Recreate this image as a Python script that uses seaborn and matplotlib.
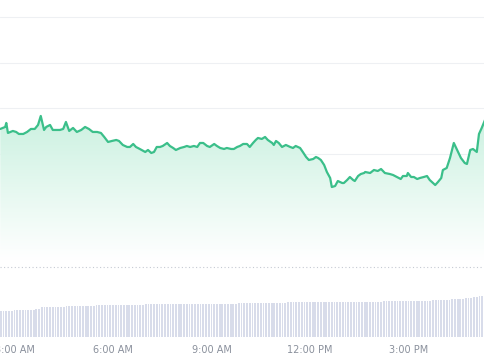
import matplotlib
matplotlib.use("Agg")
import matplotlib.pyplot as plt
from matplotlib.colors import LinearSegmentedColormap
import numpy as np
import pandas as pd
import seaborn as sns

# ---------------- data ----------------
# price trace: minutes since midnight and price index (unitless, axis hidden)
price_minutes = [154, 163, 165, 168, 177, 183, 188, 196, 203, 210, 217, 223, 228, 234, 238,
                 245, 250, 263, 269, 274, 280, 287, 294, 302, 309, 316, 323, 331, 338, 344,
                 351, 358, 366, 371, 378, 386, 391, 397, 402, 409, 419, 424, 430, 435, 440,
                 446, 451, 459, 464, 470, 475, 483, 490, 495, 501, 508, 514, 519, 525, 532,
                 537, 545, 550, 556, 563, 568, 576, 581, 587, 592, 598, 605, 610, 616, 621,
                 625, 632, 638, 643, 651, 654, 658, 663, 669, 676, 684, 689, 694, 702, 707,
                 713, 718, 726, 731, 735, 740, 746, 751, 757, 760, 766, 771, 779, 782, 788,
                 793, 799, 802, 808, 813, 819, 821, 830, 837, 844, 850, 857, 866, 872, 879,
                 886, 890, 897, 899, 905, 910, 916, 921, 928, 934, 939, 945, 949, 954, 960,
                 963, 970, 976, 983, 989, 996, 1003, 1007, 1013, 1018, 1025, 1029, 1034, 1040]
price_values = [102.75, 102.97, 103.41, 102.31, 102.53, 102.42, 102.20, 102.20, 102.42, 102.75,
                102.75, 103.19, 104.18, 102.64, 102.97, 103.19, 102.64, 102.64, 102.75, 103.52,
                102.53, 102.86, 102.42, 102.64, 102.97, 102.75, 102.42, 102.42, 102.31, 101.87,
                101.32, 101.43, 101.54, 101.43, 100.99, 100.77, 100.77, 101.10, 100.77, 100.55,
                100.22, 100.44, 100.11, 100.22, 100.77, 100.77, 100.88, 101.21, 100.88, 100.66,
                100.44, 100.66, 100.77, 100.88, 100.77, 100.88, 100.77, 101.21, 101.21, 100.88,
                100.77, 101.10, 100.88, 100.66, 100.55, 100.66, 100.55, 100.55, 100.77, 100.88,
                101.10, 101.10, 100.77, 101.21, 101.54, 101.76, 101.65, 101.87, 101.54, 101.21,
                100.99, 101.43, 101.21, 100.77, 100.99, 100.77, 100.66, 100.88, 100.66, 100.22,
                99.67, 99.34, 99.45, 99.67, 99.56, 99.34, 98.79, 98.02, 97.36, 96.37,
                96.48, 97.03, 96.81, 96.81, 97.14, 97.47, 97.14, 97.03, 97.58, 97.80,
                97.91, 98.02, 97.91, 98.24, 98.13, 98.35, 97.91, 97.80, 97.69, 97.47,
                97.25, 97.58, 97.58, 97.91, 97.47, 97.47, 97.25, 97.36, 97.47, 97.58,
                97.14, 96.81, 96.59, 96.92, 97.36, 98.24, 98.46, 99.56, 101.21, 100.44,
                99.56, 99.01, 98.90, 100.44, 100.55, 100.22, 102.20, 102.86, 103.74]

# volume bars every 5 minutes from 2:35 AM to 5:20 PM (height units)
volume_minutes = list(range(155, 1041, 5))
volume_values = [26, 26, 26.5, 26.5, 26.5, 27, 27, 27, 27, 27, 27.5, 27.5, 27.5, 28, 28,
                 30, 30, 30, 30.5, 30.5, 30.5, 30.5, 30.5, 30.5, 31, 31, 31, 31, 31, 31, 31,
                 31.5, 31.5, 31.5, 31.5, 32, 32, 32, 32, 32, 32, 32, 32, 32, 32.5, 32.5, 32.5, 32.5, 32.5,
                 32.5, 32.5, 32.5, 32.5, 33, 33, 33, 33, 33, 33, 33, 33, 33, 33, 33, 33, 33, 33, 33, 33,
                 33, 33, 33, 33.5, 33.5, 33.5, 33.5, 33.5, 33.5, 33.5,
                 33.5, 33.5, 33.5, 33.5, 33.5, 33.5, 33.5, 33.5, 34, 34, 34, 34, 34, 34, 34, 34,
                 34.5, 34.5, 34.5, 34.5, 34.5, 34.5, 34.5, 34.5, 34.5, 34.5,
                 35, 35, 35, 35, 35, 35, 35, 35, 35, 35, 35, 35, 35, 35, 35, 35, 35, 35, 35, 35, 35,
                 35.5, 35.5, 35.5, 35.5, 35.5, 35.5, 35.5, 35.5, 35.5, 35.5, 35.5, 35.5, 35.5, 35.5,
                 36, 36, 36, 36, 36, 36, 36, 36, 36, 36, 36, 36, 36, 36,
                 36.5, 36.5, 36.5, 36.5, 37, 37, 37, 37, 37,
                 37.5, 37.5, 38, 38, 38, 38.5, 38.5, 39, 39,
                 39.5, 40, 40.5, 41, 41.5, 42]

tick_minutes = [180, 360, 540, 720, 900]
tick_labels = ["3:00 AM", "6:00 AM", "9:00 AM", "12:00 PM", "3:00 PM"]
grid_values = [100, 105, 110, 115]
baseline_value = 87.58

assert len(price_minutes) == len(price_values)
assert len(volume_minutes) == len(volume_values)

LINE = "#3bbf8a"
BAR = "#d8dcea"
TXT = "#8a909c"

# ---------------- plot ----------------
sns.set_theme(style="white")
plt.rcParams["font.family"] = ["DejaVu Sans"]

fig = plt.figure(figsize=(4.85, 3.6), dpi=100)
ax = fig.add_axes([0, 23 / 360, 1, 337 / 360])
ax.set_facecolor("none")

x0, x1 = 153.5, 1040
ax.set_xlim(x0, x1)
ax.set_ylim(79.89, 116.92)

for g in grid_values:
    ax.axhline(g, color="#eef0f3", lw=0.8, zorder=0.5)
ax.axhline(baseline_value, color="#c6cad3", lw=0.8, ls=(0, (1, 2.2)), zorder=0.6)

df = pd.DataFrame({"t": price_minutes, "p": price_values})

# gradient area under the line
poly = ax.fill_between(df["t"], df["p"], baseline_value, facecolor="none", edgecolor="none")
cmap = LinearSegmentedColormap.from_list("g", ["#ffffff", "#c7f0de"])
grad = np.linspace(0, 1, 256).reshape(-1, 1)
im = ax.imshow(grad, cmap=cmap, aspect="auto", origin="lower",
               extent=[x0, x1, 88.3, 105.5], zorder=1, interpolation="bicubic")
im.set_clip_path(poly.get_paths()[0], transform=ax.transData)

sns.lineplot(data=df, x="t", y="p", ax=ax, color=LINE, linewidth=1.6, zorder=3)

# volume
ax2 = ax.twinx()
ax2.set_ylim(0, 337)
ax2.bar(volume_minutes, volume_values, width=3.3, color=BAR, linewidth=0, zorder=1)
ax2.set_xlim(x0, x1)

for a in (ax, ax2):
    for s in a.spines.values():
        s.set_visible(False)
    a.set_yticks([])
    a.set_ylabel("")
    a.set_xlabel("")

ax.set_xticks(tick_minutes)
ax.set_xticklabels(tick_labels, color=TXT, fontsize=7)
ax.tick_params(axis="x", length=0, pad=6)
ax2.tick_params(axis="x", length=0, labelbottom=False)

fig.savefig("out.png", dpi=100)
